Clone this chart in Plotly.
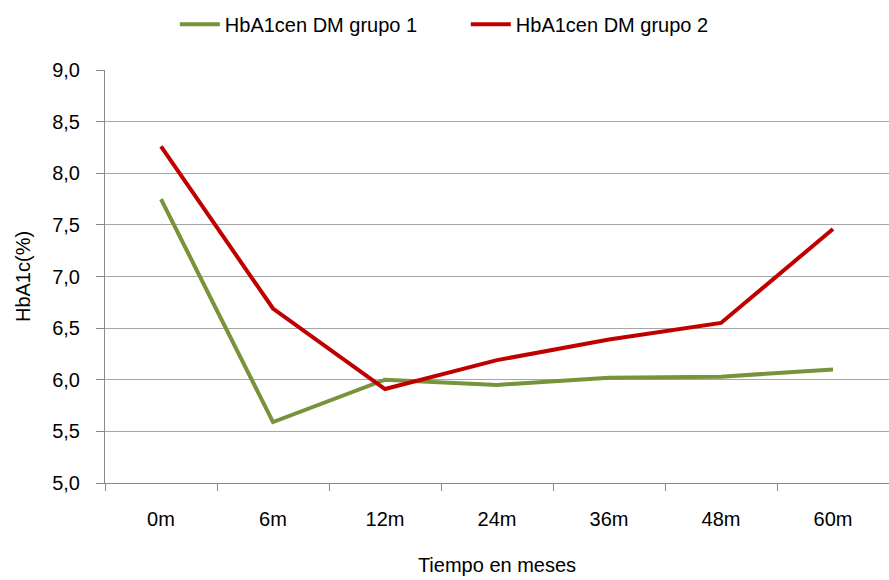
import plotly.graph_objects as go

categories = ["0m", "6m", "12m", "24m", "36m", "48m", "60m"]
grupo1 = [7.75, 5.59, 6.00, 5.95, 6.02, 6.03, 6.10]
grupo2 = [8.26, 6.69, 5.91, 6.19, 6.39, 6.55, 7.46]
name1 = "HbA1cen DM grupo 1"
name2 = "HbA1cen DM grupo 2"
yticks = [5.0, 5.5, 6.0, 6.5, 7.0, 7.5, 8.0, 8.5, 9.0]

FONT = "Liberation Sans Narrow, Arial Narrow, Liberation Sans, Arial"
FS = 20

fig = go.Figure()
fig.add_trace(go.Scatter(x=categories, y=grupo1, mode="lines", name=name1,
                         line=dict(color="#77933C", width=4)))
fig.add_trace(go.Scatter(x=categories, y=grupo2, mode="lines", name=name2,
                         line=dict(color="#C00000", width=4)))

fig.update_layout(
    width=889, height=580,
    margin=dict(l=105, r=0, t=70, b=97),
    paper_bgcolor="white", plot_bgcolor="white",
    separators=",.",
    font=dict(family=FONT, size=FS, color="black"),
    legend=dict(orientation="h", x=0.524, xanchor="center", xref="container",
                y=0.992, yanchor="top", yref="container",
                font=dict(family=FONT, size=FS),
                itemwidth=40, entrywidth=236, tracegroupgap=0),
    xaxis=dict(
        type="category", showgrid=False, showline=True, linecolor="#898989", linewidth=1,
        ticks="outside", tickson="boundaries", ticklen=7, tickcolor="#898989",
        range=[-0.5, 6.5], ticklabelstandoff=18,
        title=dict(text="Tiempo en meses", font=dict(family=FONT, size=FS), standoff=28),
        tickfont=dict(family=FONT, size=FS),
    ),
    yaxis=dict(
        range=[5.0, 9.0], tickvals=yticks, tickformat=".1f",
        showgrid=True, gridcolor="#A6A6A6", gridwidth=1,
        showline=True, linecolor="#898989", linewidth=1,
        ticks="outside", ticklen=8, tickcolor="#898989",
        zeroline=False, ticklabelstandoff=12,
        title=dict(text="HbA1c(%)", font=dict(family=FONT, size=FS), standoff=16),
        tickfont=dict(family=FONT, size=FS),
    ),
)

fig.write_html("out.html")
